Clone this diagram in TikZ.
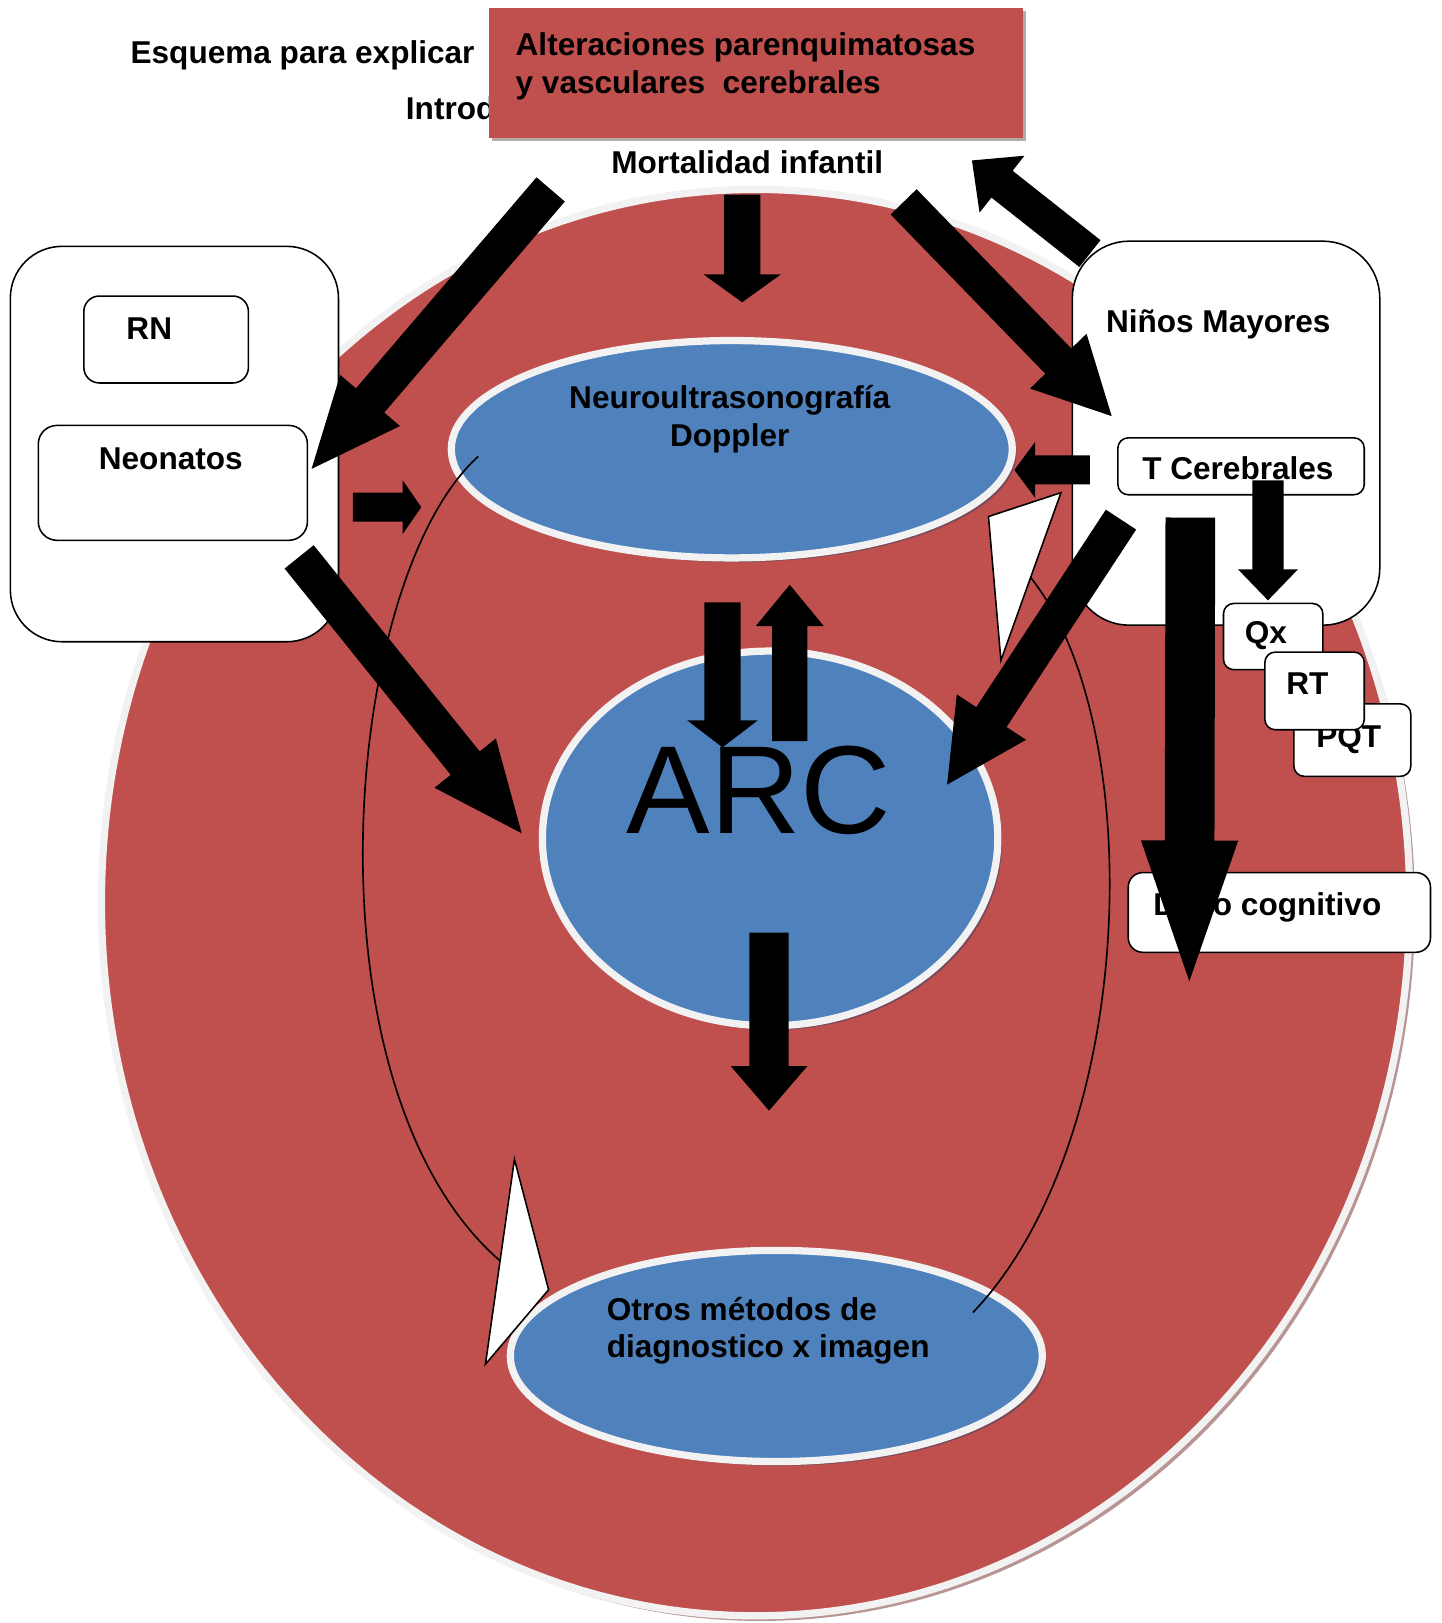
\documentclass[tikz,border=0pt]{standalone}
\usepackage{fontspec}
\setmainfont{Liberation Sans}
\usetikzlibrary{calc}

\definecolor{arcred}{HTML}{C0504D}
\definecolor{arcblue}{HTML}{4F81BD}
\definecolor{rimgray}{HTML}{F2F2F2}
\definecolor{redshade}{HTML}{B89494}
\definecolor{blueshade}{HTML}{7A4A5A}
\definecolor{boxshade}{HTML}{B3AAAA}

% block arrow: tail, tip, half shaft, half head, head length
\newcommand{\blockarrow}[5]{%
  \coordinate (h) at ($(#2)!#5!(#1)$);
  \fill[black] ($(#1)!#3!90:(#2)$) -- ($(h)!#3!90:(#2)$) -- ($(h)!#4!90:(#2)$) -- (#2)
    -- ($(h)!#4!-90:(#2)$) -- ($(h)!#3!-90:(#2)$) -- ($(#1)!#3!-90:(#2)$) -- cycle;}

\tikzset{
  lbl/.style={font=\fontsize{30.5}{36}\selectfont\bfseries, inner sep=0pt},
  box/.style={draw=black, line width=1.5pt, fill=white},
  rim/.style={draw=rimgray, line width=7pt},
  thinline/.style={line width=1.6pt},
  wedge/.style={draw=black, fill=white, line width=1.5pt, line join=miter}
}

\begin{document}
\begin{tikzpicture}[x=1pt, y=-1pt]
\useasboundingbox (0,0) rectangle (1393,1568);

% big red disc
\fill[redshade] (735,877) ellipse [x radius=632, y radius=689];
\draw[rim, fill=arcred] (730,872) ellipse [x radius=632, y radius=689];

% titles
\node[lbl, anchor=base west] (esq) at (126,61) {Esquema para explicar};
\node[lbl, anchor=base west] (intro) at (392,115) {Introducción};
\fill[boxshade] (475,11) rectangle (991,136);
\fill[arcred] (472,8) rectangle (988,133);
\node[lbl, anchor=west, align=left] (alt) at (498,64) {Alteraciones parenquimatosas\\y vasculares\ \ cerebrales};
\node[lbl, anchor=base] (mort) at (722,168) {Mortalidad infantil};

% side panels
\draw[box, rounded corners=50] (10,238) rectangle (327,620);
\draw[box, rounded corners=55] (1036,233) rectangle (1333,604);
\draw[box, rounded corners=15] (81,286) rectangle (240,370);
\node[lbl, anchor=base west] (rn) at (122,328) {RN};
\draw[box, rounded corners=18] (37,411) rectangle (297,522);
\node[lbl, anchor=base] (neo) at (165,454) {Neonatos};
\node[lbl, anchor=base] (may) at (1177,321) {Niños Mayores};
\draw[box, rounded corners=10] (1080,423) rectangle (1318,478);
\node[lbl, anchor=base] (tce) at (1196,463) {T Cerebrales};

% blue ellipses
\fill[blueshade] (711,438) ellipse [x radius=271, y radius=105];
\draw[rim, fill=arcblue] (707,434) ellipse [x radius=271, y radius=105];
\fill[blueshade] (748,814) ellipse [x radius=220, y radius=181];
\draw[rim, fill=arcblue] (744,810) ellipse [x radius=220, y radius=181];
\fill[blueshade] (754,1314) ellipse [x radius=257, y radius=102];
\draw[rim, fill=arcblue] (750,1310) ellipse [x radius=257, y radius=102];

\node[lbl, align=center] (neu) at (705,405) {Neuroultrasonografía\\Doppler};
\node[font=\fontsize{121}{121}\selectfont, anchor=base, inner sep=0pt] (arc) at (733,805) {ARC};
\node[lbl, align=left, anchor=west] (otr) at (586,1286) {Otros métodos de\\diagnostico x imagen};

% loop lines
\draw[thinline] (462,441) .. controls (330,560) and (290,1050) .. (483,1218);
\draw[thinline] (995,557) .. controls (1110,700) and (1100,1100) .. (940,1268);
\draw[wedge] (955,499) -- (1025,476) -- (967,638) -- cycle;
\draw[wedge] (497,1120) -- (530,1246) -- (469,1318) -- cycle;

% treatment boxes
\draw[box, rounded corners=10] (1182,583) rectangle (1278,647);
\node[lbl, anchor=base] (qx) at (1223,622) {Qx};
\draw[box, rounded corners=10] (1250,680) rectangle (1363,750);
\node[lbl, anchor=base] (pqt) at (1303,722) {PQT};
\draw[box, rounded corners=10] (1222,630) rectangle (1318,705);
\node[lbl, anchor=base] (rt) at (1263,671) {RT};
\draw[box, rounded corners=14] (1090,843) rectangle (1382,920);
\node[lbl, anchor=base west] (dano) at (1114,884) {Daño cognitivo};

% arrows
\coordinate (a1s) at (532,183); \coordinate (a1e) at (301,453);
\coordinate (a2s) at (717,188); \coordinate (a2e) at (717,292);
\coordinate (a3s) at (873,195); \coordinate (a3e) at (1074,402);
\coordinate (a4s) at (1053,245); \coordinate (a4e) at (939,155);
\coordinate (a5s) at (341,490); \coordinate (a5e) at (407,490);
\coordinate (a6s) at (289,538); \coordinate (a6e) at (504,805);
\coordinate (a7s) at (698,582); \coordinate (a7e) at (698,722);
\coordinate (a8s) at (763,716); \coordinate (a8e) at (763,565);
\coordinate (a9s) at (1083,502); \coordinate (a9e) at (915,758);
\coordinate (a10s) at (1225,464); \coordinate (a10e) at (1225,580);
\coordinate (a11s) at (1150,500); \coordinate (a11e) at (1149,948);
\coordinate (a12s) at (743,901); \coordinate (a12e) at (743,1073);
\coordinate (a13s) at (1053,454); \coordinate (a13e) at (980,454);
\blockarrow{a1s}{a1e}{18pt}{38pt}{87pt}
\blockarrow{a2s}{a2e}{17.5pt}{37.5pt}{27pt}
\blockarrow{a3s}{a3e}{17.5pt}{38pt}{74pt}
\blockarrow{a4s}{a4e}{16.5pt}{35pt}{37pt}
\blockarrow{a5s}{a5e}{14pt}{26pt}{18pt}
\blockarrow{a6s}{a6e}{18pt}{38pt}{87pt}
\blockarrow{a7s}{a7e}{17.5pt}{34pt}{26pt}
\blockarrow{a8s}{a8e}{17pt}{33pt}{40pt}
\blockarrow{a9s}{a9e}{17.5pt}{40pt}{78pt}
\blockarrow{a10s}{a10e}{15pt}{29pt}{30pt}
\blockarrow{a11s}{a11e}{24pt}{47pt}{136pt}
\blockarrow{a12s}{a12e}{19pt}{37pt}{43pt}
\blockarrow{a13s}{a13e}{14pt}{27pt}{20pt}
\end{tikzpicture}
\end{document}
